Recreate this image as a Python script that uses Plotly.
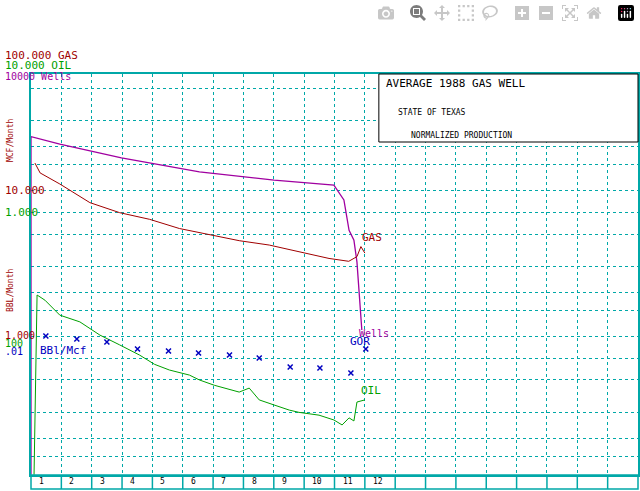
import plotly.graph_objects as go

gas_x = [0.13,0.3,0.95,1.94,2.92,3.91,4.89,5.88,6.86,7.85,8.83,9.82,10.47,10.74,10.87,11.0]
gas_y = [15300,13100,11000,8200,7000,6300,5450,4950,4500,4200,3800,3400,3250,3500,4100,3700]
wells_x = [0,0,0.95,2.98,5.55,8.01,9.98,10.31,10.48,10.64,10.74,10.87,10.9]
wells_y = [112,23200,20600,16600,13300,11700,10800,8550,5300,4540,3210,1500,1100]
oil_x = [0.1,0.2,0.46,0.95,1.61,2.27,2.92,3.58,4.07,4.56,5.22,5.55,6.04,6.53,6.86,7.19,7.52,8.01,8.51,8.83,9.49,9.98,10.25,10.48,10.64,10.74,11.0]
oil_y = [112,1910,1760,1390,1250,1015,870,740,640,585,540,500,460,430,413,440,365,337,311,300,287,266,246,275,262,353,365]
gor_x = [0.49,1.51,2.5,3.51,4.53,5.52,6.54,7.52,8.54,9.52,10.54,11.03]
gor_y = [1000,954,910,815,790,765,741,707,613,604,558,815]
year_labels = [str(i) for i in range(1, 13)]

TEAL = "#00a8a8"; RED = "#a00000"; GRN = "#00a000"; PUR = "#a000a0"; BLU = "#0000c0"
F = "DejaVu Sans Mono"

fig = go.Figure()
fig.add_trace(go.Scatter(x=wells_x, y=wells_y, mode="lines", line=dict(color=PUR, width=1.3)))
fig.add_trace(go.Scatter(x=gas_x, y=gas_y, mode="lines", line=dict(color=RED, width=1)))
fig.add_trace(go.Scatter(x=oil_x, y=oil_y, mode="lines", line=dict(color=GRN, width=1)))
fig.add_trace(go.Scatter(x=gor_x, y=gor_y, mode="markers", marker=dict(symbol="x-thin", size=5, color=BLU, line=dict(color=BLU, width=1.5))))

def px(x): return (x - 31) / 609
def py(y): return (475 - y) / 401

ann = []
def t(x, y, s, c, size=11, xa="left", ang=0):
    ann.append(dict(x=px(x), y=py(y), xref="paper", yref="paper", text=s, showarrow=False,
                    font=dict(family=F, size=size, color=c), xanchor=xa, yanchor="middle", textangle=ang))
t(3, 56, "100.000 GAS", RED)
t(3, 66, "10.000 OIL", GRN)
t(3, 77, "10000 Wells", PUR, 10)
t(10, 140, "MCF/Month", RED, 8, "center", -90)
t(3, 190, "10.000", RED)
t(3, 212, "1.000", GRN)
t(10, 290, "BBL/Month", RED, 8, "center", -90)
t(3, 335, "1.000", RED, 10)
t(3, 343, "100", GRN, 10)
t(3, 351, ".01", BLU, 10)
t(38, 350, "BBl/Mcf", BLU)
t(361, 237, "GAS", RED)
t(358, 333, "Wells", PUR, 10)
t(349, 341, "GOR", BLU)
t(360, 390, "OIL", GRN)
t(385, 83, "AVERAGE 1988 GAS WELL", "black", 11)
t(397, 112, "STATE OF TEXAS", "black", 8)
t(410, 135, "NORMALIZED PRODUCTION", "black", 8)
for i, lab in enumerate(year_labels):
    ann.append(dict(x=i + 0.2, y=py(482), xref="x", yref="paper", text=lab, showarrow=False,
                    font=dict(family=F, size=8, color="black"), xanchor="left", yanchor="middle"))

shapes = [dict(type="rect", xref="paper", yref="paper", x0=px(380), x1=1, y0=py(142), y1=1,
               fillcolor="white", line=dict(color="black", width=1), layer="above"),
          dict(type="rect", xref="paper", yref="paper", x0=0, x1=1, y0=py(489), y1=0,
               line=dict(color=TEAL, width=1.5))]
for i in range(1, 20):
    shapes.append(dict(type="line", xref="x", yref="paper", x0=i, x1=i, y0=py(489), y1=0,
                       line=dict(color=TEAL, width=1.5)))

fig.update_layout(
    width=640, height=491, margin=dict(l=31, r=0, t=74, b=16),
    plot_bgcolor="white", paper_bgcolor="white", showlegend=False,
    annotations=ann, shapes=shapes,
    xaxis=dict(range=[0, 20], dtick=1, showticklabels=False, gridcolor=TEAL, griddash="dot",
               showline=True, mirror=True, linecolor=TEAL, linewidth=1.5, zeroline=False),
    yaxis=dict(type="log", range=[2.048, 4.795], showticklabels=False,
               tickvals=[150, 200, 300, 500, 700, 1000, 1500, 2000, 3000, 5000, 7000, 10000, 15000, 20000, 30000, 50000],
               gridcolor=TEAL, griddash="dot", showline=True, mirror=True, linecolor=TEAL, linewidth=1.5),
)
fig.write_html("out.html", post_script="document.body.style.margin='0';document.body.style.overflow='hidden';")
